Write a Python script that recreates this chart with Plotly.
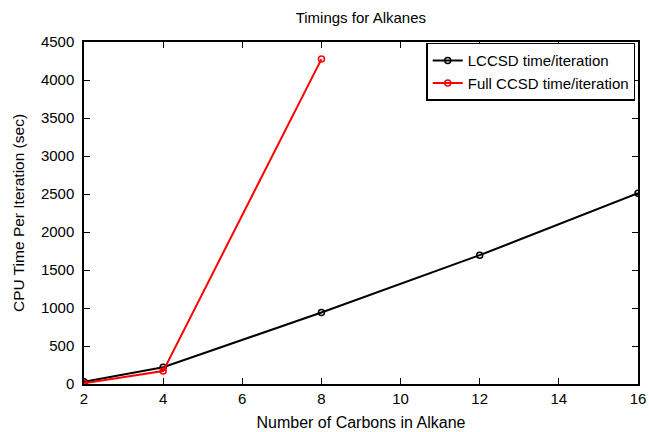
import plotly.graph_objects as go

carbons_lccsd = [2, 4, 8, 12, 16]
time_lccsd = [30, 220, 940, 1695, 2510]
carbons_full = [2, 4, 8]
time_full = [10, 170, 4275]

x_ticks = [2, 4, 6, 8, 10, 12, 14, 16]
y_ticks = [0, 500, 1000, 1500, 2000, 2500, 3000, 3500, 4000, 4500]

fig = go.Figure()
fig.add_trace(go.Scatter(
    x=carbons_lccsd, y=time_lccsd, mode="lines+markers",
    name="LCCSD time/iteration",
    line=dict(color="black", width=2),
    marker=dict(symbol="circle-open", size=6, color="black", line=dict(width=1.5)),
))
fig.add_trace(go.Scatter(
    x=carbons_full, y=time_full, mode="lines+markers",
    name="Full CCSD time/iteration",
    line=dict(color="#ff0000", width=2),
    marker=dict(symbol="circle-open", size=6, color="#ff0000", line=dict(width=1.5)),
))

axis_common = dict(
    showline=True, linecolor="black", linewidth=1.5, mirror="ticks",
    ticks="inside", ticklen=6, tickcolor="black", showgrid=False, zeroline=False,
    tickfont=dict(size=15, color="black"), automargin=False,
)

fig.update_layout(
    template="none",
    width=649, height=432,
    paper_bgcolor="white", plot_bgcolor="white",
    font=dict(family="Liberation Sans, Arial, sans-serif", size=14, color="black"),
    title=dict(text="Timings for Alkanes", x=0.556, xanchor="center", y=0.958, yanchor="middle",
               font=dict(size=15)),
    margin=dict(l=84, r=11, t=42, b=48),
    xaxis=dict(range=[2, 16], tickvals=x_ticks, ticktext=[str(v) for v in x_ticks],
               title=dict(text="Number of Carbons in Alkane", font=dict(size=16), standoff=11),
               **axis_common),
    yaxis=dict(range=[0, 4500], tickvals=y_ticks, ticktext=[str(v) for v in y_ticks],
               ticklabelstandoff=5,
               title=dict(text="CPU Time Per Iteration (sec)", font=dict(size=15.5), standoff=12),
               **axis_common),
    legend=dict(x=0.995, y=0.998, xanchor="right", yanchor="top",
                bordercolor="black", borderwidth=1.5, bgcolor="white",
                font=dict(size=15), tracegroupgap=0, itemwidth=30),
    showlegend=True,
)

fig.write_html("out.html", config={"displayModeBar": False},
               post_script="document.body.style.margin='0';")
